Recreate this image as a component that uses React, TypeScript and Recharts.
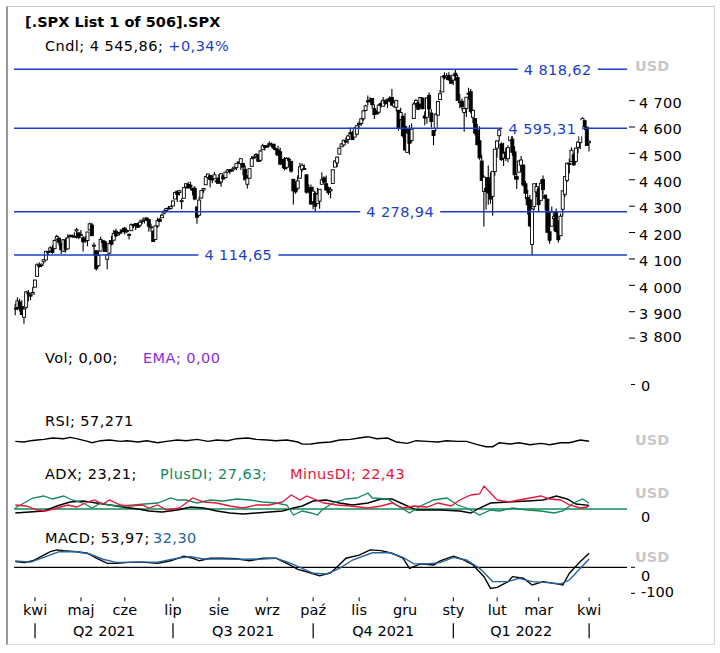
import React from 'react';
import { ComposedChart, Bar, Line, XAxis, YAxis, ReferenceLine } from 'recharts';

// daily candles: [open, high, low, close]
type Ohlc = [number, number, number, number];

const mar21: Ohlc[] = [
  [3913, 3930, 3887, 3913], [3916, 3955, 3906, 3941], [3937, 3949, 3901, 3911], [3920, 3943, 3889, 3889],
  [3879, 3919, 3854, 3910], [3917, 3979, 3909, 3975], [3970, 3982, 3940, 3971], [3963, 3969, 3944, 3959],
  [3967, 3994, 3966, 3973],
];
const apr21: Ohlc[] = [
  [3993, 4021, 3993, 4020], [4034, 4084, 4034, 4078], [4075, 4087, 4068, 4074], [4075, 4083, 4069, 4080],
  [4089, 4099, 4082, 4097], [4096, 4129, 4095, 4129], [4124, 4131, 4114, 4128], [4130, 4148, 4125, 4142],
  [4141, 4152, 4120, 4125], [4139, 4174, 4139, 4170], [4175, 4192, 4171, 4185], [4179, 4180, 4151, 4163],
  [4160, 4160, 4119, 4135], [4129, 4175, 4126, 4173], [4171, 4180, 4124, 4135], [4138, 4194, 4138, 4180],
  [4185, 4194, 4183, 4188], [4188, 4193, 4181, 4187], [4186, 4201, 4181, 4183], [4206, 4218, 4177, 4211],
  [4199, 4199, 4175, 4181],
];
const may21: Ohlc[] = [
  [4192, 4210, 4188, 4193], [4180, 4187, 4128, 4165], [4178, 4187, 4161, 4168], [4170, 4203, 4148, 4202],
  [4210, 4238, 4208, 4233], [4229, 4236, 4188, 4188], [4150, 4162, 4111, 4152], [4131, 4134, 4056, 4063],
  [4074, 4131, 4069, 4113], [4130, 4184, 4127, 4174], [4169, 4172, 4143, 4163], [4165, 4170, 4127, 4128],
  [4099, 4117, 4061, 4116], [4122, 4172, 4119, 4159], [4169, 4188, 4151, 4156], [4171, 4210, 4171, 4197],
  [4205, 4214, 4182, 4188], [4191, 4202, 4188, 4196], [4201, 4213, 4197, 4201], [4210, 4218, 4203, 4204],
];
const jun21: Ohlc[] = [
  [4217, 4221, 4193, 4202], [4207, 4213, 4197, 4208], [4191, 4197, 4174, 4193], [4207, 4234, 4206, 4230],
  [4229, 4232, 4217, 4227], [4234, 4236, 4210, 4227], [4233, 4237, 4219, 4220], [4228, 4249, 4221, 4239],
  [4242, 4249, 4233, 4247], [4248, 4255, 4234, 4255], [4255, 4258, 4243, 4247], [4249, 4252, 4203, 4224],
  [4220, 4233, 4204, 4222], [4205, 4208, 4165, 4166], [4174, 4226, 4174, 4225], [4225, 4256, 4217, 4246],
  [4250, 4256, 4242, 4242], [4256, 4272, 4256, 4266], [4274, 4286, 4268, 4281], [4284, 4292, 4281, 4291],
  [4293, 4301, 4287, 4292], [4291, 4302, 4287, 4298],
];
const jul21: Ohlc[] = [
  [4301, 4321, 4300, 4320], [4327, 4355, 4327, 4352], [4357, 4358, 4316, 4344], [4352, 4362, 4340, 4358],
  [4321, 4330, 4289, 4321], [4330, 4372, 4330, 4370], [4373, 4386, 4366, 4385], [4382, 4393, 4367, 4369],
  [4380, 4393, 4362, 4374], [4369, 4369, 4340, 4360], [4367, 4376, 4322, 4327], [4297, 4297, 4233, 4258],
  [4266, 4336, 4262, 4323], [4331, 4360, 4329, 4359], [4361, 4369, 4351, 4367], [4381, 4415, 4381, 4412],
  [4409, 4423, 4405, 4422], [4416, 4416, 4372, 4401], [4403, 4416, 4387, 4401], [4404, 4430, 4403, 4419],
  [4396, 4408, 4384, 4395],
];
const aug21: Ohlc[] = [
  [4407, 4422, 4385, 4387], [4392, 4424, 4374, 4423], [4416, 4417, 4401, 4403], [4408, 4430, 4406, 4429],
  [4429, 4441, 4426, 4437], [4438, 4440, 4421, 4432], [4436, 4446, 4431, 4437], [4442, 4449, 4436, 4448],
  [4446, 4461, 4436, 4461], [4464, 4468, 4461, 4468], [4461, 4480, 4437, 4480], [4462, 4462, 4417, 4448],
  [4440, 4454, 4398, 4400], [4383, 4418, 4367, 4406], [4406, 4441, 4406, 4442], [4451, 4490, 4451, 4480],
  [4484, 4493, 4479, 4486], [4490, 4502, 4486, 4496], [4493, 4496, 4468, 4470], [4474, 4513, 4468, 4509],
  [4514, 4537, 4514, 4529], [4529, 4532, 4511, 4523],
];
const sep21: Ohlc[] = [
  [4529, 4531, 4521, 4524], [4534, 4546, 4525, 4537], [4532, 4541, 4522, 4535], [4535, 4535, 4513, 4520],
  [4518, 4521, 4494, 4514], [4513, 4529, 4493, 4493], [4506, 4521, 4458, 4459], [4474, 4479, 4445, 4469],
  [4479, 4486, 4435, 4443], [4447, 4486, 4439, 4481], [4478, 4485, 4448, 4474], [4470, 4471, 4427, 4433],
  [4402, 4403, 4306, 4358], [4375, 4394, 4347, 4354], [4368, 4417, 4359, 4396], [4406, 4465, 4406, 4449],
  [4439, 4463, 4430, 4455], [4443, 4458, 4437, 4443], [4419, 4419, 4347, 4353], [4363, 4383, 4349, 4359],
  [4371, 4382, 4307, 4308],
];
const oct21: Ohlc[] = [
  [4317, 4375, 4288, 4357], [4348, 4356, 4279, 4300], [4310, 4369, 4310, 4346], [4319, 4365, 4290, 4364],
  [4383, 4429, 4383, 4400], [4407, 4413, 4386, 4391], [4385, 4416, 4360, 4361], [4369, 4375, 4342, 4351],
  [4358, 4373, 4330, 4364], [4386, 4439, 4386, 4438], [4448, 4475, 4448, 4471], [4464, 4488, 4448, 4486],
  [4497, 4521, 4497, 4520], [4525, 4540, 4525, 4536], [4532, 4552, 4527, 4550], [4547, 4560, 4539, 4545],
  [4553, 4572, 4537, 4566], [4578, 4598, 4570, 4575], [4580, 4585, 4552, 4552], [4562, 4598, 4562, 4596],
  [4573, 4608, 4568, 4605],
];
const nov21: Ohlc[] = [
  [4610, 4621, 4595, 4614], [4614, 4635, 4604, 4631], [4631, 4664, 4624, 4661], [4663, 4684, 4660, 4680],
  [4699, 4719, 4682, 4698], [4702, 4714, 4694, 4702], [4708, 4708, 4670, 4685], [4670, 4685, 4630, 4647],
  [4660, 4663, 4649, 4649], [4656, 4688, 4650, 4683], [4689, 4698, 4673, 4683], [4679, 4714, 4679, 4701],
  [4701, 4701, 4684, 4689], [4700, 4708, 4672, 4705], [4709, 4717, 4694, 4698], [4712, 4744, 4682, 4683],
  [4679, 4699, 4672, 4691], [4675, 4702, 4660, 4701], [4664, 4664, 4586, 4595], [4628, 4673, 4626, 4655],
  [4640, 4647, 4560, 4567],
];
const dec21: Ohlc[] = [
  [4602, 4653, 4510, 4513], [4504, 4596, 4504, 4577], [4590, 4608, 4495, 4538], [4549, 4613, 4541, 4592],
  [4632, 4694, 4632, 4687], [4690, 4705, 4675, 4701], [4691, 4695, 4665, 4667], [4687, 4713, 4671, 4712],
  [4710, 4710, 4667, 4669], [4642, 4660, 4607, 4634], [4637, 4712, 4612, 4710], [4720, 4731, 4651, 4669],
  [4653, 4667, 4598, 4621], [4587, 4588, 4531, 4568], [4594, 4651, 4583, 4649], [4645, 4698, 4645, 4697],
  [4704, 4740, 4704, 4726], [4733, 4791, 4733, 4791], [4795, 4807, 4780, 4786], [4788, 4805, 4778, 4793],
  [4795, 4808, 4775, 4779], [4776, 4787, 4765, 4766],
];
const jan22: Ohlc[] = [
  [4778, 4796, 4758, 4797], [4804, 4819, 4775, 4794], [4788, 4798, 4700, 4701], [4693, 4725, 4671, 4696],
  [4698, 4708, 4663, 4677], [4655, 4674, 4582, 4670], [4670, 4714, 4638, 4713], [4728, 4749, 4703, 4726],
  [4734, 4744, 4651, 4659], [4637, 4666, 4614, 4663], [4632, 4633, 4568, 4577], [4588, 4611, 4531, 4533],
  [4548, 4603, 4476, 4483], [4471, 4495, 4395, 4398], [4356, 4417, 4223, 4410], [4367, 4411, 4287, 4356],
  [4408, 4454, 4305, 4350], [4380, 4429, 4309, 4327], [4337, 4432, 4264, 4432], [4431, 4516, 4415, 4516],
];
const feb22: Ohlc[] = [
  [4520, 4550, 4484, 4547], [4567, 4595, 4545, 4589], [4536, 4542, 4471, 4477], [4482, 4540, 4452, 4501],
  [4505, 4521, 4471, 4484], [4480, 4531, 4466, 4522], [4548, 4590, 4548, 4587], [4554, 4589, 4490, 4504],
  [4506, 4527, 4402, 4419], [4412, 4427, 4365, 4402], [4429, 4473, 4429, 4471], [4455, 4490, 4430, 4475],
  [4456, 4456, 4375, 4380], [4385, 4395, 4327, 4349], [4333, 4362, 4268, 4305], [4324, 4342, 4221, 4226],
  [4155, 4295, 4115, 4289], [4299, 4385, 4286, 4385], [4354, 4388, 4335, 4374],
];
const mar22: Ohlc[] = [
  [4364, 4375, 4279, 4306], [4322, 4401, 4322, 4387], [4401, 4416, 4346, 4363], [4342, 4343, 4284, 4329],
  [4327, 4327, 4199, 4201], [4203, 4277, 4158, 4171], [4224, 4299, 4224, 4278], [4253, 4268, 4206, 4260],
  [4280, 4291, 4200, 4204], [4202, 4247, 4162, 4173], [4188, 4272, 4188, 4262], [4288, 4358, 4261, 4358],
  [4345, 4413, 4335, 4412], [4398, 4465, 4392, 4463], [4462, 4480, 4424, 4461], [4469, 4523, 4468, 4512],
  [4494, 4501, 4455, 4456], [4470, 4521, 4465, 4520], [4523, 4546, 4501, 4543], [4541, 4576, 4517, 4576],
  [4602, 4637, 4589, 4632], [4624, 4628, 4589, 4602], [4599.02, 4603.07, 4530.41, 4530.41],
];
const apr22: Ohlc[] = [[4540.32, 4548.7, 4507.57, 4545.86]];

const months = [
  { label: '', rows: mar21 },
  { label: 'kwi', rows: apr21 },
  { label: 'maj', rows: may21 },
  { label: 'cze', rows: jun21 },
  { label: 'lip', rows: jul21 },
  { label: 'sie', rows: aug21 },
  { label: 'wrz', rows: sep21 },
  { label: 'paź', rows: oct21 },
  { label: 'lis', rows: nov21 },
  { label: 'gru', rows: dec21 },
  { label: 'sty', rows: jan22 },
  { label: 'lut', rows: feb22 },
  { label: 'mar', rows: mar22 },
  { label: 'kwi', rows: apr22 },
];
const quarterStartMonths = [1, 4, 7, 10, 13];
const quarterLabels = ['Q2 2021', 'Q3 2021', 'Q4 2021', 'Q1 2022'];

const priceTicks = [3800, 3900, 4000, 4100, 4200, 4300, 4400, 4500, 4600, 4700];
const levels = [4818.62, 4595.31, 4278.94, 4114.65];

// indicator samples: [trading day, value]
const rsi: [number, number][] = [
  [0, 57], [4, 54.6], [7, 59.4], [10, 61.8], [13, 64.2], [17, 69], [22, 66.6], [25, 71.4], [28, 66.6],
  [33, 57], [35, 52.2], [39, 59.4], [43, 61.8], [48, 57], [51, 59.4], [56, 54.6], [60, 59.4], [65, 52.2],
  [69, 57], [74, 61.8], [78, 59.4], [83, 64.2], [88, 57], [92, 61.8], [97, 59.4], [101, 66.6], [106, 69],
  [110, 64.2], [115, 61.8], [119, 59.4], [124, 61.8], [129, 54.6], [131, 47], [135, 47.4], [139, 52.2],
  [144, 54.6], [148, 61.8], [153, 64.2], [157, 69], [161, 73.8], [165, 66.6], [170, 69], [174, 54.6],
  [179, 49.8], [183, 59.4], [188, 57], [193, 54.6], [197, 59.4], [202, 57], [206, 57], [211, 45],
  [215, 37.8], [218, 37.8], [221, 52.2], [226, 47.4], [230, 52.2], [235, 45], [240, 49.8], [244, 45],
  [249, 52.2], [253, 52.2], [258, 61.8], [262, 57.3],
];
const adx: [number, number][] = [
  [0, 8], [13, 12], [19, 22], [25, 30], [31, 32], [37, 28], [43, 24], [49, 20], [56, 16], [61, 12],
  [67, 10], [74, 14], [80, 20], [86, 18], [92, 12], [98, 8], [104, 6], [110, 8], [116, 10], [122, 12],
  [127, 18], [131, 22], [136, 32], [142, 34], [148, 28], [154, 24], [161, 28], [167, 36], [172, 36],
  [176, 28], [183, 14], [194, 14], [203, 12], [208, 8], [212, 18], [217, 28], [225, 30], [234, 32],
  [241, 34], [247, 42], [252, 36], [256, 26], [262, 23.2],
];
const plusDI: [number, number][] = [
  [0, 18], [4, 28], [8, 38], [13, 42], [17, 36], [22, 42], [26, 34], [31, 28], [35, 18], [39, 28],
  [43, 24], [48, 22], [54, 24], [59, 26], [65, 28], [71, 38], [74, 34], [78, 34], [83, 28], [89, 34],
  [95, 32], [101, 36], [107, 34], [113, 30], [119, 28], [124, 24], [127, 4], [131, 12], [135, 8],
  [138, 4], [140, 14], [145, 28], [151, 36], [156, 38], [161, 48], [163, 38], [170, 36], [174, 24],
  [180, 8], [185, 22], [191, 34], [197, 38], [202, 24], [206, 18], [212, 4], [217, 14], [221, 12],
  [227, 18], [234, 14], [240, 12], [246, 8], [250, 12], [255, 28], [259, 36], [262, 27.6],
];
const minusDI: [number, number][] = [
  [0, 24], [5, 22], [10, 14], [14, 12], [19, 18], [24, 24], [28, 20], [33, 30], [36, 34], [40, 26],
  [43, 34], [48, 24], [52, 22], [58, 24], [61, 18], [65, 24], [69, 14], [75, 18], [81, 38], [86, 30],
  [92, 28], [98, 22], [104, 18], [110, 24], [116, 24], [122, 30], [126, 44], [130, 34], [133, 42],
  [141, 28], [147, 24], [153, 22], [161, 18], [167, 22], [172, 28], [177, 18], [182, 22], [188, 20],
  [193, 28], [199, 22], [203, 34], [208, 44], [212, 46], [214, 62], [217, 48], [220, 34], [225, 30],
  [230, 34], [235, 38], [240, 42], [244, 36], [249, 34], [253, 24], [258, 18], [261, 20], [262, 22.4],
];
const macd: [number, number][] = [
  [0, 22], [4, 18], [8, 25], [13, 47], [16, 60], [19, 67], [22, 64], [28, 60], [33, 54], [37, 35],
  [42, 15], [46, 15], [52, 19], [58, 20], [65, 15], [71, 25], [77, 43], [81, 35], [84, 25], [89, 35],
  [95, 35], [101, 33], [107, 25], [113, 35], [119, 35], [124, 15], [129, -8], [133, -17], [139, -33],
  [144, -21], [147, 2], [151, 35], [157, 47], [162, 67], [167, 64], [172, 54], [177, 35], [180, -4],
  [185, 13], [191, 9], [194, 25], [200, 43], [204, 31], [209, 9], [214, -36], [217, -81], [220, -77],
  [225, -55], [227, -36], [232, -42], [236, -68], [241, -55], [246, -62], [250, -68], [253, -23],
  [258, 22], [262, 54],
];
const macdSignal: [number, number][] = [
  [0, 24], [7, 20], [13, 38], [20, 60], [28, 60], [34, 51], [40, 31], [46, 19], [56, 20], [65, 20],
  [74, 35], [80, 41], [86, 32], [95, 32], [104, 31], [113, 32], [119, 35], [125, 18], [131, -4],
  [136, -23], [142, -26], [148, -4], [154, 28], [163, 56], [171, 56], [177, 38], [182, 13], [188, 13],
  [194, 18], [200, 38], [206, 28], [212, -4], [218, -55], [225, -55], [230, -42], [236, -55],
  [243, -59], [249, -64], [253, -49], [258, -4], [262, 32.3],
];

const FONT = '"DejaVu Sans", Verdana, sans-serif';
const FS = 14.5;
const BLUE = '#1b3fc8';
const GREEN = '#13895a';
const RED = '#e8143a';
const MACD_BLUE = '#2264a0';
const X_DOMAIN: [number, number] = [-0.6, 279.3];
const levelFrac = [0.887, 0.862, 0.63, 0.366];

const candles = months
  .flatMap((m) => m.rows)
  .map(([o, h, l, c], d) => ({ d, o, h, l, c, range: [l, h] }));

const monthStarts: number[] = [];
months.reduce((acc, m) => {
  monthStarts.push(acc);
  return acc + m.rows.length;
}, 0);

const tickInfo = new Map<number, { month?: string; qstart?: boolean; quarter?: string }>();
months.forEach((m, k) => {
  if (k > 0) tickInfo.set(monthStarts[k], { month: m.label, qstart: quarterStartMonths.includes(k) });
});
quarterLabels.forEach((q, j) => {
  const mid = (monthStarts[quarterStartMonths[j]] + monthStarts[quarterStartMonths[j + 1]]) / 2;
  tickInfo.set(mid, { quarter: q });
});
const xTicks = Array.from(tickInfo.keys()).sort((a, b) => a - b);

const pts = (arr: [number, number][]) => arr.map(([d, v]) => ({ d, v }));

const thousands = (n: number) => {
  const s = String(Math.round(n));
  return s.length > 3 ? s.slice(0, -3) + ' ' + s.slice(-3) : s;
};
const plDecimal = (v: number) => {
  const [i, dec] = v.toFixed(2).split('.');
  return thousands(Number(i)) + ',' + dec;
};

const last = candles[candles.length - 1];
const prev = candles[candles.length - 2];
const pct = ((last.c / prev.c - 1) * 100).toFixed(2).replace('.', ',');

const Candle = (props: any) => {
  const { x, y, width, height, payload } = props;
  if (x == null || payload == null) return <g />;
  const top = height < 0 ? y + height : y;
  const hh = Math.abs(height);
  const cx = x + width / 2;
  const span = payload.h - payload.l || 1;
  const bTop = top + ((payload.h - Math.max(payload.o, payload.c)) / span) * hh;
  const bBot = top + ((payload.h - Math.min(payload.o, payload.c)) / span) * hh;
  const up = payload.c >= payload.o;
  return (
    <g>
      <line x1={cx} x2={cx} y1={top} y2={top + hh} stroke="#000" strokeWidth={1.1} />
      <rect x={cx - 1.5} y={bTop} width={3} height={Math.max(bBot - bTop, 1)} fill={up ? '#fff' : '#000'} stroke="#000" strokeWidth={0.9} />
    </g>
  );
};

const PriceTick = (props: any) => {
  const { x, y, payload } = props;
  const dy = payload.value === 3800 ? 3.9 : 7.3;
  return (
    <g>
      <line x1={x + 2} x2={x + 8} y1={y} y2={y} stroke="#000" strokeWidth={1} />
      <text x={x + 12} y={y + dy} fontFamily={FONT} fontSize={FS} letterSpacing={0.3} fill="#000">{thousands(payload.value)}</text>
    </g>
  );
};

const MacdTick = (props: any) => {
  const { x, y, payload } = props;
  const dy = payload.value === 0 ? 14 : 3.5;
  return (
    <g>
      <line x1={x + 4} x2={x + 8} y1={y} y2={y} stroke="#000" strokeWidth={1} />
      <text x={x + 14} y={y + dy} fontFamily={FONT} fontSize={FS} fill="#000">{payload.value === 0 ? '0' : '-100'}</text>
    </g>
  );
};

const XTick = (props: any) => {
  const { x, y, payload } = props;
  const info = tickInfo.get(payload.value);
  if (!info) return <g />;
  if (info.quarter) {
    return (
      <text x={x} y={y + 43} textAnchor="middle" fontFamily={FONT} fontSize={FS} fill="#000">{info.quarter}</text>
    );
  }
  return (
    <g>
      <line x1={x} x2={x} y1={y + 4} y2={y + 8} stroke="#000" strokeWidth={1} />
      <text x={x} y={y + 22} textAnchor="middle" fontFamily={FONT} fontSize={FS} fill="#000">{info.month}</text>
      {info.qstart && <line x1={x} x2={x} y1={y + 30} y2={y + 45} stroke="#000" strokeWidth={1.2} />}
    </g>
  );
};

const LevelTag = ({ viewBox, text, frac }: any) => {
  if (!viewBox) return <g />;
  const { x, y, width } = viewBox;
  const cx = x + frac * width;
  return (
    <g>
      <rect x={cx - 40} y={y - 8} width={80} height={16} fill="#fff" />
      <text x={cx} y={y + 5.3} textAnchor="middle" fontFamily={FONT} fontSize={FS} letterSpacing={0.4} fill={BLUE}>{text}</text>
    </g>
  );
};

const Txt = ({ x, y, color = '#000', bold = false, children }: any) => (
  <div
    style={{
      position: 'absolute',
      left: x,
      top: y,
      transform: 'translateY(-50%)',
      lineHeight: 1,
      whiteSpace: 'nowrap',
      fontFamily: FONT,
      fontSize: FS,
      fontWeight: bold ? 'bold' : 'normal',
      letterSpacing: bold ? 0 : 0.45,
      color,
    }}
  >
    {children}
  </div>
);

const Panel = ({ top, children }: any) => (
  <div style={{ position: 'absolute', left: 0, top }}>{children}</div>
);

export default function App() {
  return (
    <div style={{ position: 'absolute', left: 0, top: 0, width: 720, height: 653, background: '#fff', overflow: 'hidden' }}>
      <div
        style={{
          position: 'absolute',
          left: 6,
          top: 6,
          width: 706,
          height: 637,
          borderTop: '1px solid #c9c9c9',
          borderRight: '1px solid #d6d6d6',
          borderBottom: '1px solid #d6d6d6',
          borderLeft: '2px solid #9a9a9a',
        }}
      />

      <Panel top={0}>
        <ComposedChart width={720} height={350} data={candles} margin={{ top: 60, right: 33, bottom: 9, left: 14 }}>
          <XAxis dataKey="d" type="number" domain={X_DOMAIN} hide allowDataOverflow />
          <YAxis
            orientation="right"
            width={60}
            domain={[3789, 4854]}
            ticks={priceTicks}
            interval={0}
            tick={<PriceTick />}
            tickLine={false}
            axisLine={false}
            tickSize={0}
            tickMargin={0}
            allowDataOverflow
          />
          {levels.map((lv, i) => (
            <ReferenceLine
              key={lv}
              y={lv}
              stroke={BLUE}
              strokeWidth={1.5}
              label={(p: any) => <LevelTag viewBox={p.viewBox} text={plDecimal(lv)} frac={levelFrac[i]} />}
            />
          ))}
          <Bar dataKey="range" barSize={3} shape={<Candle />} isAnimationActive={false} />
        </ComposedChart>
      </Panel>

      <Panel top={400}>
        <ComposedChart width={720} height={70} margin={{ top: 29.4, right: 93, bottom: 12.8, left: 14 }}>
          <XAxis dataKey="d" type="number" domain={X_DOMAIN} hide allowDataOverflow />
          <YAxis hide domain={[0, 100]} />
          <Line data={pts(rsi)} dataKey="v" stroke="#000" strokeWidth={1.4} dot={false} isAnimationActive={false} />
        </ComposedChart>
      </Panel>

      <Panel top={470}>
        <ComposedChart width={720} height={60} margin={{ top: 12, right: 93, bottom: 13, left: 14 }}>
          <XAxis dataKey="d" type="number" domain={X_DOMAIN} hide allowDataOverflow />
          <YAxis hide domain={[0, 70]} allowDataOverflow />
          <ReferenceLine y={16} stroke={GREEN} strokeWidth={1.3} />
          <Line data={pts(adx)} dataKey="v" stroke="#000" strokeWidth={1.4} dot={false} isAnimationActive={false} />
          <Line data={pts(plusDI)} dataKey="v" stroke={GREEN} strokeWidth={1.3} dot={false} isAnimationActive={false} />
          <Line data={pts(minusDI)} dataKey="v" stroke={RED} strokeWidth={1.3} dot={false} isAnimationActive={false} />
        </ComposedChart>
      </Panel>

      <Panel top={530}>
        <ComposedChart width={720} height={123} margin={{ top: 11.3, right: 33, bottom: 14.7, left: 14 }}>
          <XAxis
            dataKey="d"
            type="number"
            domain={X_DOMAIN}
            ticks={xTicks}
            interval={0}
            height={45}
            tick={<XTick />}
            tickLine={false}
            axisLine={false}
            tickSize={0}
            tickMargin={0}
            allowDataOverflow
          />
          <YAxis
            orientation="right"
            width={60}
            domain={[-100, 100]}
            ticks={[0, -100]}
            interval={0}
            tick={<MacdTick />}
            tickLine={false}
            axisLine={false}
            tickSize={0}
            tickMargin={0}
            allowDataOverflow
          />
          <ReferenceLine y={0} stroke="#000" strokeWidth={1.2} />
          <Line data={pts(macd)} dataKey="v" stroke="#000" strokeWidth={1.4} dot={false} isAnimationActive={false} />
          <Line data={pts(macdSignal)} dataKey="v" stroke={MACD_BLUE} strokeWidth={1.4} dot={false} isAnimationActive={false} />
        </ComposedChart>
      </Panel>

      <Txt x={25} y={21.5} bold>[.SPX List 1 of 506].SPX</Txt>
      <Txt x={45} y={46}>
        Cndl; {plDecimal(last.c)}; <span style={{ color: BLUE }}>+{pct}%</span>
      </Txt>
      <Txt x={635} y={66} color="#c8c8c8" bold>USD</Txt>

      <Txt x={45} y={358}>Vol; 0,00;</Txt>
      <Txt x={143} y={358} color="#8a2be2">EMA; 0,00</Txt>
      <div style={{ position: 'absolute', left: 631, top: 384, width: 4, height: 1, background: '#000' }} />
      <Txt x={641} y={386}>0</Txt>

      <Txt x={45} y={421}>RSI; 57,271</Txt>
      <Txt x={635} y={440} color="#c8c8c8" bold>USD</Txt>

      <Txt x={45} y={473.5}>ADX; 23,21;</Txt>
      <Txt x={160} y={473.5} color={GREEN}>PlusDI; 27,63;</Txt>
      <Txt x={290} y={473.5} color={RED}>MinusDI; 22,43</Txt>
      <Txt x={635} y={493} color="#c8c8c8" bold>USD</Txt>
      <Txt x={641} y={517}>0</Txt>

      <Txt x={45} y={537.5}>MACD; 53,97;</Txt>
      <Txt x={153} y={537.5} color={MACD_BLUE}>32,30</Txt>
      <Txt x={635} y={557} color="#c8c8c8" bold>USD</Txt>
    </div>
  );
}
